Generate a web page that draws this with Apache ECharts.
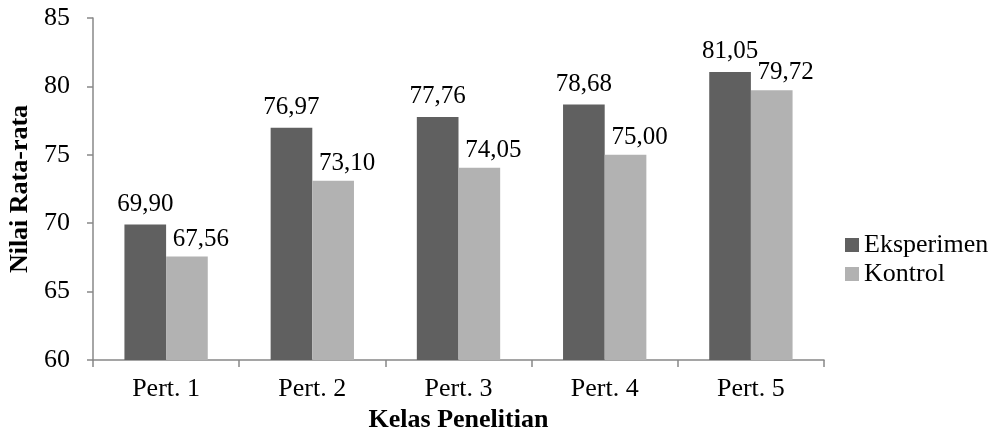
<!DOCTYPE html>
<html><head><meta charset="utf-8">
<script src="https://cdn.jsdelivr.net/npm/echarts@6/dist/echarts.min.js"></script>
<style>html,body{margin:0;padding:0;background:#fff}#c{width:996px;height:434px}</style>
</head><body><div id="c"></div>
<script>
const categories = ['Pert. 1','Pert. 2','Pert. 3','Pert. 4','Pert. 5'];
const eksperimen = [69.90, 76.97, 77.76, 78.68, 81.05];
const kontrol = [67.56, 73.10, 74.05, 75.00, 79.72];
const seriesNames = ['Eksperimen','Kontrol'];
const xName = 'Kelas Penelitian';
const yName = 'Nilai Rata-rata';

const font = 'Liberation Serif, Times New Roman, serif';
const chart = echarts.init(document.getElementById('c'));
const fmt = p => p.value.toFixed(2).replace('.', ',');
chart.setOption({
  animation: false,
  textStyle: {fontFamily: font},
  grid: {left: 93, right: 172, top: 18, bottom: 74, containLabel: false, outerBoundsMode: 'none'},
  legend: {
    orient: 'vertical', left: 845, top: 232, itemWidth: 14, itemHeight: 14, itemGap: 3,
    icon: 'rect', data: seriesNames, padding: 0,
    textStyle: {fontFamily: font, fontSize: 26, color: '#000'}
  },
  xAxis: {
    type: 'category', data: categories,
    name: xName, nameLocation: 'middle', nameGap: 43,
    nameTextStyle: {fontFamily: font, fontSize: 26, fontWeight: 'bold', color: '#000'},
    axisLine: {lineStyle: {color: '#888', width: 1.5}},
    axisTick: {show: true, length: 7, lineStyle: {color: '#888', width: 1.5}},
    axisLabel: {fontFamily: font, fontSize: 26, color: '#000', margin: 16}
  },
  yAxis: {
    type: 'value', min: 60, max: 85, interval: 5,
    name: yName, nameLocation: 'middle', nameGap: 58, nameRotate: 90,
    nameTextStyle: {fontFamily: font, fontSize: 26, fontWeight: 'bold', color: '#000'},
    axisLine: {show: true, lineStyle: {color: '#888', width: 1.5}},
    axisTick: {show: true, length: 6, lineStyle: {color: '#888', width: 1.5}},
    axisLabel: {fontFamily: font, fontSize: 26, color: '#000', margin: 23},
    splitLine: {show: false}
  },
  series: [
    {name: seriesNames[0], type: 'bar', data: eksperimen, barGap: '0%', barCategoryGap: '43%',
     itemStyle: {color: '#606060'},
     label: {show: true, position: 'top', distance: 8, offset: [0, 0], formatter: fmt,
       fontFamily: font, fontSize: 25, color: '#000'}},
    {name: seriesNames[1], type: 'bar', data: kontrol, barGap: '0%', barCategoryGap: '43%',
     itemStyle: {color: '#b2b2b2'},
     label: {show: true, position: 'top', distance: 5, offset: [14, 0], formatter: fmt,
       fontFamily: font, fontSize: 25, color: '#000'}}
  ]
});
</script></body></html>
